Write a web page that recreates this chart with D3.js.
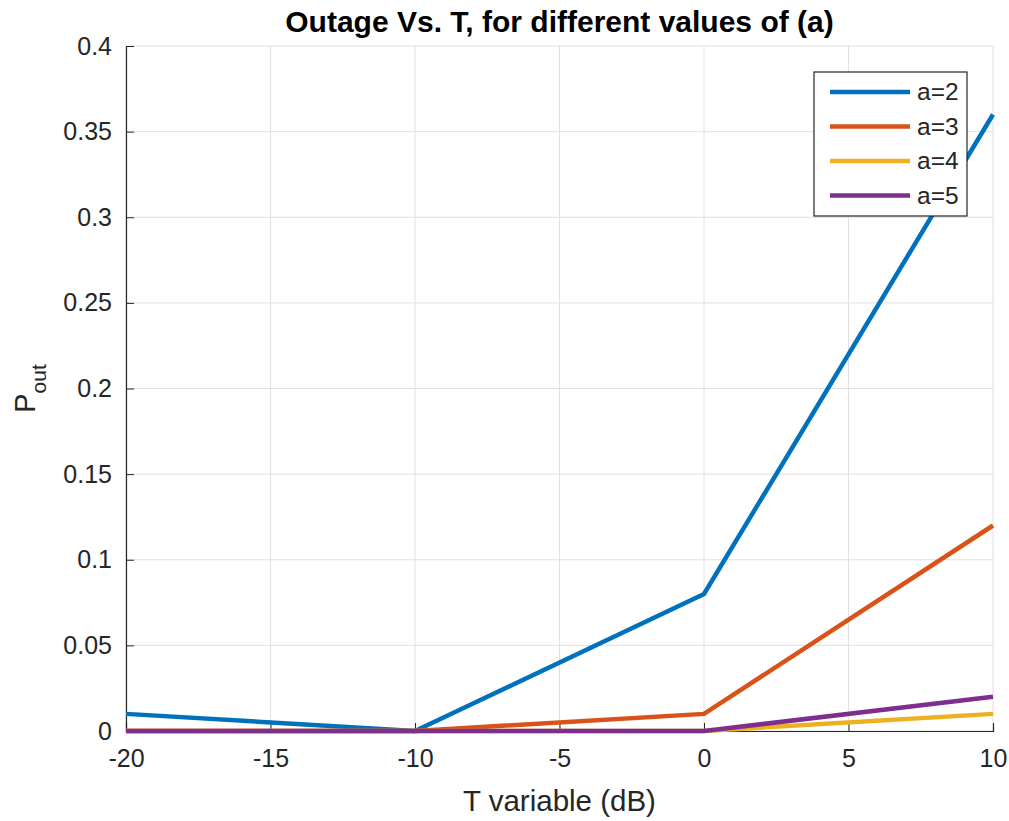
<!DOCTYPE html>
<html>
<head>
<meta charset="utf-8">
<script src="https://cdn.jsdelivr.net/npm/d3@7"></script>
<style>
  body { margin: 0; background: #fff; }
  svg { font-family: "Liberation Sans", Arial, sans-serif; }
</style>
</head>
<body>
<div id="chart"></div>
<script>
// T values (dB)
const tValues = [-20, -10, 0, 10];

// Outage probability per path-loss exponent a
const a2 = [0.01, 0, 0.08, 0.36];
const a3 = [0, 0, 0.01, 0.12];
const a4 = [0, 0, 0, 0.01];
const a5 = [0, 0, 0, 0.02];

const seriesNames = ["a=2", "a=3", "a=4", "a=5"];
const seriesColors = ["#0072BD", "#D95319", "#EDB120", "#7E2F8E"];

const xTicks = [-20, -15, -10, -5, 0, 5, 10];
const yTicks = [0, 0.05, 0.1, 0.15, 0.2, 0.25, 0.3, 0.35, 0.4];

const series = [a2, a3, a4, a5].map((vals, i) => ({
    name: seriesNames[i],
    color: seriesColors[i],
    points: vals.map((v, j) => ({t: tValues[j], p: v}))
}));

const width = 1009, height = 821;
const margin = {top: 46, right: 16, bottom: 90, left: 126};
const innerW = width - margin.left - margin.right;
const innerH = height - margin.top - margin.bottom;

const svg = d3.select("#chart").append("svg")
    .attr("width", width)
    .attr("height", height);

const g = svg.append("g")
    .attr("transform", `translate(${margin.left},${margin.top})`);

const xScale = d3.scaleLinear().domain([-20, 10]).range([0, innerW]);
const yScale = d3.scaleLinear().domain([0, 0.4]).range([innerH, 0]);

// Grid lines
g.append("g").selectAll("line")
    .data(xTicks)
    .join("line")
    .attr("x1", d => xScale(d)).attr("x2", d => xScale(d))
    .attr("y1", 0).attr("y2", innerH)
    .attr("stroke", "#e0e0e0").attr("stroke-width", 1);

g.append("g").selectAll("line")
    .data(yTicks)
    .join("line")
    .attr("x1", 0).attr("x2", innerW)
    .attr("y1", d => yScale(d)).attr("y2", d => yScale(d))
    .attr("stroke", "#e0e0e0").attr("stroke-width", 1);

// Axes (inward ticks like MATLAB)
const xAxis = d3.axisBottom(xScale).tickValues(xTicks).tickSize(-8).tickPadding(18)
    .tickFormat(d => String(d));
const yAxis = d3.axisLeft(yScale).tickValues(yTicks).tickSize(-8).tickPadding(14)
    .tickFormat(d => String(+d.toFixed(2)));

const xAxisG = g.append("g")
    .attr("transform", `translate(0,${innerH})`)
    .call(xAxis);
const yAxisG = g.append("g").call(yAxis);

[xAxisG, yAxisG].forEach(ax => {
    ax.attr("font-family", null).attr("font-size", null);
    ax.select(".domain").attr("stroke", "#262626").attr("stroke-width", 1.2);
    ax.selectAll(".tick line").attr("stroke", "#262626");
    ax.selectAll(".tick text")
        .attr("fill", "#262626")
        .style("font-size", "25px");
});

// Lines
const line = d3.line()
    .x(d => xScale(d.t))
    .y(d => yScale(d.p));

g.append("g").selectAll("path")
    .data(series)
    .join("path")
    .attr("fill", "none")
    .attr("stroke", d => d.color)
    .attr("stroke-width", 4.5)
    .attr("d", d => line(d.points));

// Title
svg.append("text")
    .attr("x", margin.left + innerW / 2)
    .attr("y", 32)
    .attr("text-anchor", "middle")
    .style("font-size", "30px")
    .attr("font-weight", "bold")
    .attr("fill", "#000")
    .text("Outage Vs. T, for different values of (a)");

// X label
svg.append("text")
    .attr("x", margin.left + innerW / 2)
    .attr("y", 811)
    .attr("text-anchor", "middle")
    .style("font-size", "29.5px")
    .attr("fill", "#262626")
    .text("T variable (dB)");

// Y label with subscript
const yLabel = svg.append("text")
    .attr("transform", `translate(35,${margin.top + innerH / 2}) rotate(-90)`)
    .attr("text-anchor", "middle")
    .style("font-size", "29px")
    .attr("fill", "#262626");
yLabel.append("tspan").text("P");
yLabel.append("tspan").style("font-size", "21px").attr("dy", 11).text("out");

// Legend
const legend = svg.append("g").attr("transform", "translate(814,72)");
legend.append("rect")
    .attr("width", 153).attr("height", 144)
    .attr("fill", "#fff")
    .attr("stroke", "#262626").attr("stroke-width", 1.2);

const rows = legend.selectAll("g")
    .data(series)
    .join("g")
    .attr("transform", (d, i) => `translate(0,${20 + i * 34.5})`);

rows.append("line")
    .attr("x1", 16).attr("x2", 96)
    .attr("stroke", d => d.color)
    .attr("stroke-width", 4.5);

rows.append("text")
    .attr("x", 103).attr("y", 8)
    .style("font-size", "24.5px")
    .attr("fill", "#262626")
    .text(d => d.name);
</script>
</body>
</html>
